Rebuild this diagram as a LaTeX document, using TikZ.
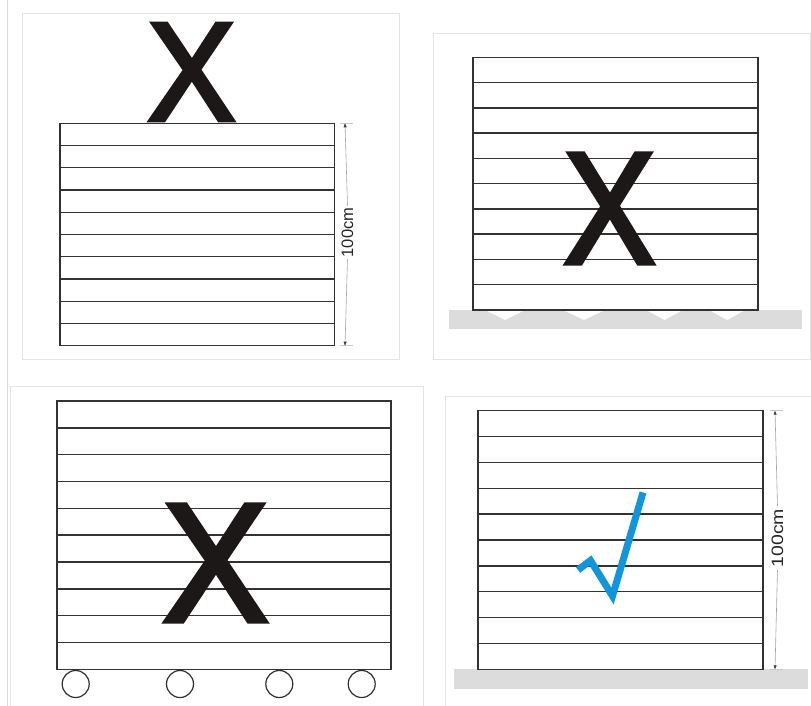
\documentclass[tikz,border=0pt]{standalone}
\usepackage{fontspec}
\setmainfont{Liberation Sans}
\newfontfamily\xfont[FakeBold=3]{Liberation Sans}
\usetikzlibrary{arrows.meta}
\definecolor{framegray}{RGB}{228,228,228}
\definecolor{sidebar}{RGB}{212,216,232}
\definecolor{groundgray}{RGB}{220,220,220}
\definecolor{board}{RGB}{50,50,50}
\definecolor{checkblue}{RGB}{18,150,219}
\definecolor{xblack}{RGB}{28,24,24}
\definecolor{dimgray}{RGB}{165,165,165}
\begin{document}
\begin{tikzpicture}[x=1pt,y=-1pt,
  panel/.style={draw=framegray,line width=0.8pt},
  stackbox/.style={draw=board,line width=1.4pt,fill=white},
  boardline/.style={draw=board,line width=1.4pt},
  groundbar/.style={fill=groundgray,draw=none},
  wheel/.style={circle,draw=board,line width=1.2pt,minimum size=27pt,inner sep=0pt,fill=white},
  bigx/.style={text=xblack,inner sep=0pt,font=\xfont\fontsize{100}{100}\selectfont},
  dimline/.style={draw=dimgray,line width=0.6pt,-{Triangle[length=4pt,width=3pt,color=black!75]}},
  extline/.style={draw=dimgray!60,line width=0.5pt},
  dimlabel/.style={rotate=90,inner xsep=2pt,inner ysep=0pt,font=\fontsize{16.5}{16.5}\selectfont,text=black!85}
]
\useasboundingbox (0,0) rectangle (811,706);
\fill[white] (0,0) rectangle (811,706);
% side bar and panel frames
\draw[sidebar,line width=0.8pt] (7.5,0) -- (7.5,706);
\draw[panel] (22,13) rectangle (399.5,359);
\draw[panel] (433,33) rectangle (810.5,359);
\draw[panel] (10,706) -- (10,386.5) -- (423,386.5) -- (423,706);
\draw[panel] (445,706) -- (445,396) -- (811,396);

% ---------- top-left: X on top of the stack ----------
\draw[stackbox] (60,123.3) rectangle (334.5,345.7);
\foreach \k in {1,...,9}
  \draw[boardline] (60,{123.3+\k*22.24}) -- (334.5,{123.3+\k*22.24});
\node[bigx,xscale=1.32,yscale=1.40] (x1) at (191.5,72) {X};
\coordinate (d1t) at (345,123.3);
\coordinate (d1b) at (345,345.7);
\node[dimlabel] (d1) at (347.5,232.5) {100cm};
\draw[extline] (340,123.3) -- (353,123.3);
\draw[extline] (340,345.7) -- (353,345.7);
\draw[dimline] (d1.east) -- (d1t);
\draw[dimline] (d1.west) -- (d1b);

% ---------- top-right: stack on feet ----------
\fill[groundbar] (449,310) rectangle (802,329);
\foreach \a/\b in {485/525,563/605,646/683,709/745}
  \fill[white] (\a,310) -- (\b,310) -- ({(\a+\b)/2},320) -- cycle;
\draw[stackbox] (473,57.3) rectangle (758,310);
\foreach \k in {1,...,9}
  \draw[boardline] (473,{57.3+\k*25.27}) -- (758,{57.3+\k*25.27});
\node[bigx,xscale=1.38,yscale=1.59] (x2) at (609.5,208.5) {X};

% ---------- bottom-left: stack on wheels ----------
\draw[stackbox] (57,401) rectangle (391,669.3);
\foreach \k in {1,...,9}
  \draw[boardline] (57,{401+\k*26.83}) -- (391,{401+\k*26.83});
\node[wheel] (w1) at (75.7,684) {};
\node[wheel] (w2) at (180,684) {};
\node[wheel] (w3) at (279.3,684) {};
\node[wheel] (w4) at (361.7,684) {};
\node[bigx,xscale=1.59,yscale=1.69] (x3) at (215.5,563) {X};

% ---------- bottom-right: correct ----------
\fill[groundbar] (454,669.3) rectangle (808,689);
\draw[stackbox] (478,410.7) rectangle (763,669.3);
\foreach \k in {1,...,9}
  \draw[boardline] (478,{410.7+\k*25.86}) -- (763,{410.7+\k*25.86});
\draw[checkblue,line width=7pt,line join=miter,line cap=butt]
  (578,570) -- (590.5,560.5) -- (612.5,596) -- (643,492.5);
\coordinate (d2t) at (775,410.7);
\coordinate (d2b) at (775,669.3);
\node[dimlabel,xscale=1.18] (d2) at (777.5,538) {100cm};
\draw[extline] (770,410.7) -- (783,410.7);
\draw[extline] (770,669.3) -- (783,669.3);
\draw[dimline] (d2.east) -- (d2t);
\draw[dimline] (d2.west) -- (d2b);
\end{tikzpicture}
\end{document}
